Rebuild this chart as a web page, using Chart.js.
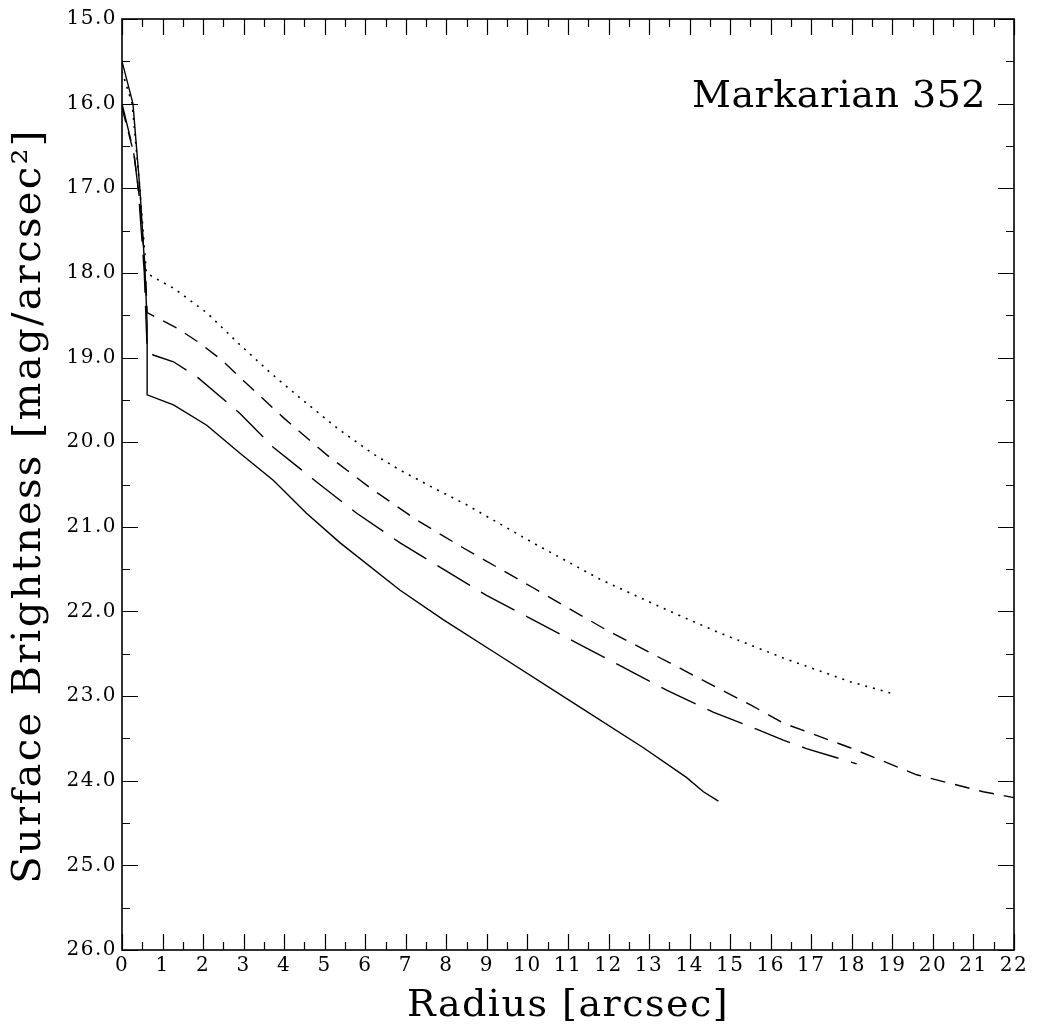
<!DOCTYPE html>
<html>
<head>
<meta charset="utf-8">
<script src="https://cdn.jsdelivr.net/npm/chart.js@4/dist/chart.umd.min.js"></script>
<style>
html,body{margin:0;padding:0;background:#fff;}
canvas{display:block;}
</style>
</head>
<body>
<canvas id="c" width="1037" height="1030"></canvas>
<script>
// ---- data ----
const chartLabel = 'Markarian 352';
const xTitle = 'Radius [arcsec]';
const yTitle = 'Surface Brightness [mag/arcsec²]';

const solidX = [0, 0.27, 0.44, 0.57, 0.62, 0.62, 1.27, 2.09, 2.91, 3.73, 4.55, 5.38, 6.86, 7.93, 9.24, 11.13, 12.86, 13.92, 14.34, 14.71];
const solidY = [15.5, 16.0, 17.0, 18.0, 18.6, 19.44, 19.56, 19.80, 20.13, 20.45, 20.84, 21.19, 21.75, 22.10, 22.50, 23.08, 23.61, 23.96, 24.13, 24.24];

const dottedX = [0, 0.25, 0.44, 0.6, 0.81, 1.27, 2.09, 2.91, 3.73, 4.55, 5.38, 6.2, 6.86, 7.68, 8.5, 10.14, 11.79, 13.43, 14.67, 16.31, 17.96, 19.0];
const dottedY = [15.62, 16.0, 17.0, 18.0, 18.06, 18.18, 18.47, 18.85, 19.21, 19.54, 19.86, 20.14, 20.33, 20.54, 20.74, 21.19, 21.62, 21.98, 22.24, 22.55, 22.83, 22.97];

const shortDashX = [0, 0.3, 0.45, 0.58, 0.62, 1.35, 1.92, 2.46, 2.99, 3.98, 5.05, 6.12, 7.27, 8.42, 10.14, 11.95, 13.76, 14.67, 15.49, 16.31, 17.96, 19.6, 21.24, 22.0];
const shortDashY = [16.05, 16.6, 17.2, 18.0, 18.47, 18.65, 18.83, 19.03, 19.27, 19.71, 20.15, 20.54, 20.92, 21.25, 21.72, 22.22, 22.67, 22.90, 23.10, 23.32, 23.61, 23.93, 24.13, 24.2];

const longDashX = [0, 0.28, 0.4, 0.55, 0.62, 0.77, 1.27, 1.88, 2.91, 3.73, 4.8, 5.79, 6.86, 8.99, 11.21, 13.43, 14.58, 15.49, 16.31, 16.88, 18.12];
const longDashY = [16.0, 16.55, 17.0, 18.0, 18.91, 18.97, 19.05, 19.24, 19.66, 20.06, 20.47, 20.84, 21.19, 21.81, 22.37, 22.93, 23.19, 23.36, 23.52, 23.62, 23.80];

const xMin = 0, xMax = 22, xStep = 0.5;
const yMin = 15, yMax = 26, yStep = 0.5;

// ---- build ----
const pts = (xs, ys) => xs.map((x, i) => ({x: x, y: ys[i]}));
const FONT = "'DejaVu Serif', 'Liberation Serif', serif";
const isMajor = v => Math.abs(v - Math.round(v)) < 1e-6;

const frameTicks = {
  id: 'frameTicks',
  beforeDraw(chart) {
    // wide letterforms for the tick labels drawn by the scales
    chart.ctx.letterSpacing = '1.5px';
  },
  afterDatasetsDraw(chart) {
    const {ctx, chartArea: a, scales: {x, y}} = chart;
    ctx.save();
    ctx.strokeStyle = '#000';
    ctx.lineWidth = 1.2;
    ctx.beginPath();
    x.ticks.forEach(t => {
      const px = Math.round(x.getPixelForValue(t.value)) + 0.5;
      const len = isMajor(t.value) ? 16 : 8;
      ctx.moveTo(px, a.bottom); ctx.lineTo(px, a.bottom - len);
      ctx.moveTo(px, a.top); ctx.lineTo(px, a.top + len);
    });
    y.ticks.forEach(t => {
      const py = Math.round(y.getPixelForValue(t.value)) + 0.5;
      const len = isMajor(t.value) ? 16 : 8;
      ctx.moveTo(a.left, py); ctx.lineTo(a.left + len, py);
      ctx.moveTo(a.right, py); ctx.lineTo(a.right - len, py);
    });
    ctx.stroke();
    ctx.lineWidth = 1.6;
    ctx.strokeRect(a.left, a.top, a.right - a.left, a.bottom - a.top);
    ctx.fillStyle = '#000';
    // label inside the plot
    ctx.letterSpacing = '0.5px';
    ctx.font = "38px " + FONT;
    ctx.textAlign = 'right';
    ctx.textBaseline = 'alphabetic';
    ctx.fillText(chartLabel, a.right - 28, a.top + 88);
    // y axis title
    ctx.letterSpacing = '2.3px';
    ctx.font = "40px " + FONT;
    ctx.textAlign = 'center';
    ctx.textBaseline = 'middle';
    ctx.translate(30, 506);
    ctx.rotate(-Math.PI / 2);
    ctx.fillText(yTitle, 0, 0);
    ctx.restore();
  },
  afterDraw(chart) {
    chart.ctx.letterSpacing = '0px';
  }
};

new Chart(document.getElementById('c'), {
  type: 'line',
  data: {
    datasets: [
      {data: pts(dottedX, dottedY), borderColor: '#000', borderWidth: 1.6, borderDash: [2, 6], pointRadius: 0, tension: 0, fill: false},
      {data: pts(shortDashX, shortDashY), borderColor: '#000', borderWidth: 1.4, borderDash: [15, 10], pointRadius: 0, tension: 0, fill: false},
      {data: pts(longDashX, longDashY), borderColor: '#000', borderWidth: 1.4, borderDash: [38, 13], pointRadius: 0, tension: 0, fill: false},
      {data: pts(solidX, solidY), borderColor: '#000', borderWidth: 1.4, pointRadius: 0, tension: 0, fill: false}
    ]
  },
  options: {
    responsive: false,
    animation: false,
    devicePixelRatio: 1,
    layout: {padding: {top: 19, right: 23, left: 0, bottom: 0}},
    plugins: {legend: {display: false}, tooltip: {enabled: false}, title: {display: false}},
    scales: {
      x: {
        type: 'linear', min: xMin, max: xMax,
        grid: {display: false, drawTicks: false},
        border: {display: false},
        ticks: {
          stepSize: xStep, autoSkip: false, maxRotation: 0, padding: 4, color: '#000',
          font: {family: FONT, size: 20},
          callback: v => isMajor(v) ? String(Math.round(v)) : ''
        },
        title: {display: true, text: xTitle, color: '#000', font: {family: FONT, size: 38}, padding: {top: 0, bottom: 1}},
        afterFit: s => { s.height = 80; }
      },
      y: {
        type: 'linear', min: yMin, max: yMax, reverse: true,
        grid: {display: false, drawTicks: false},
        border: {display: false},
        ticks: {
          stepSize: yStep, autoSkip: false, padding: 5, color: '#000',
          font: {family: FONT, size: 20},
          callback: v => isMajor(v) ? v.toFixed(1) : ''
        },
        title: {display: false},
        afterFit: s => { s.width = 122; }
      }
    }
  },
  plugins: [frameTicks]
});
</script>
</body>
</html>
